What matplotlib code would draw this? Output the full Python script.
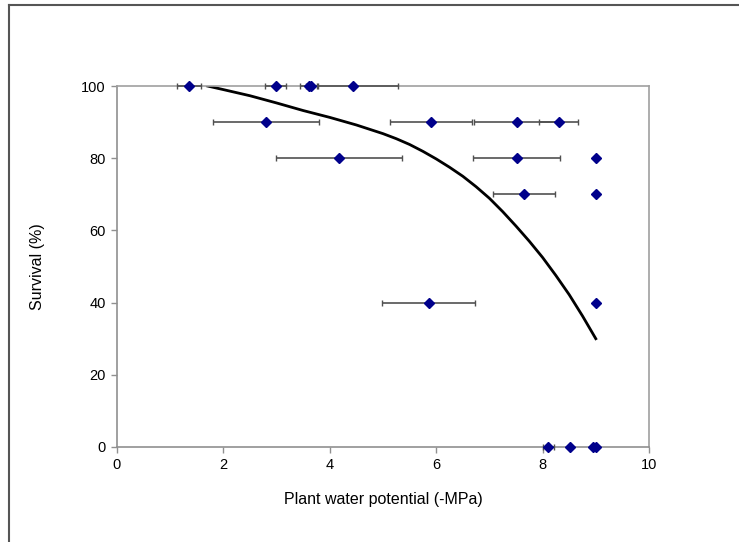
import matplotlib
matplotlib.use("Agg")
import matplotlib.pyplot as plt
from matplotlib.lines import Line2D

plt.rcParams["font.family"] = ["Liberation Sans", "DejaVu Sans"]

# observed survival vs plant water potential, with horizontal error (SE)
pwp = [1.35, 2.98, 3.61, 3.65, 4.44,
       2.80, 5.90, 7.51, 8.30,
       4.17, 7.51, 9.00,
       7.65, 9.00,
       5.86, 9.00,
       8.11, 8.51, 8.94, 9.00]
survival = [100, 100, 100, 100, 100,
            90, 90, 90, 90,
            80, 80, 80,
            70, 70,
            40, 40,
            0, 0, 0, 0]
pwp_err = [0.22, 0.19, 0.17, 0.10, 0.85,
           1.00, 0.77, 0.80, 0.37,
           1.18, 0.81, 0.0,
           0.58, 0.0,
           0.87, 0.0,
           0.11, 0.0, 0.0, 0.0]

# fitted curve
fit_x = [1.70, 2.0, 2.5, 3.0, 3.5, 4.0, 4.5, 5.0, 5.25, 5.5, 5.75, 6.0, 6.25, 6.5,
         6.75, 7.0, 7.25, 7.5, 7.75, 8.0, 8.25, 8.5, 8.75, 9.0]
fit_y = [100, 99.0, 97.3, 95.3, 93.2, 91.3, 89.2, 86.8, 85.4, 83.8, 81.9, 79.8, 77.5, 75.0,
         72.1, 68.9, 65.2, 61.2, 57.0, 52.5, 47.5, 42.2, 36.3, 30.0]

fig = plt.figure(figsize=(7.39, 5.42), dpi=100)
ax = fig.add_axes([117 / 739, 1 - 447 / 542, 532 / 739, 361 / 542])

ax.plot(fit_x, fit_y, color="black", linewidth=2.0, zorder=2,
        solid_joinstyle="round")
ax.errorbar(pwp, survival, xerr=pwp_err, fmt="none", ecolor="#505050",
            elinewidth=1.2, capsize=2.5, capthick=1.0, zorder=3, clip_on=False)
ax.plot(pwp, survival, linestyle="none", marker="D", markersize=5,
        color="#00008B", markeredgecolor="#00008B", zorder=4, clip_on=False)

ax.set_xlim(0, 10)
ax.set_ylim(0, 100)
ax.set_xticks(range(0, 11, 2))
ax.set_yticks(range(0, 101, 20))
for s in ax.spines.values():
    s.set_color("#a0a0a0")
    s.set_linewidth(1.2)
ax.spines["left"].set_color("#909090")
ax.spines["bottom"].set_color("#909090")
ax.tick_params(direction="out", length=4, width=1, color="#909090",
               labelsize=10.5, pad=4)
ax.set_xlabel("Plant water potential (-MPa)", fontsize=11.5, labelpad=14)
ax.set_ylabel("Survival (%)", fontsize=11.5, labelpad=26)

# outer frame (only top and left edges are visible in the original)
fig.add_artist(Line2D([9 / 739, 1], [1 - 5 / 542, 1 - 5 / 542],
                      transform=fig.transFigure, color="#555555", linewidth=1.5))
fig.add_artist(Line2D([9 / 739, 9 / 739], [0, 1 - 5 / 542],
                      transform=fig.transFigure, color="#555555", linewidth=1.5))

fig.savefig("out.png", dpi=100)
